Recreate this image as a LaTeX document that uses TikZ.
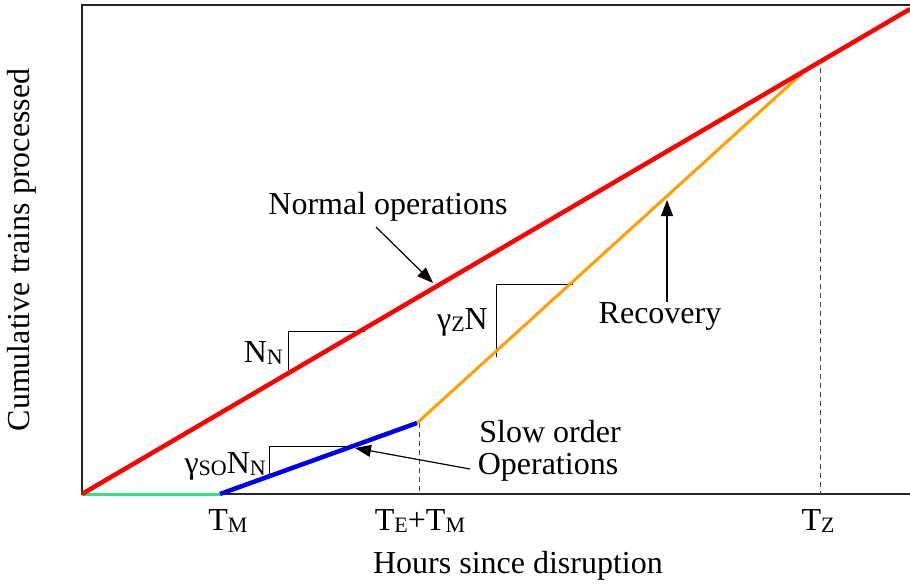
\documentclass[tikz,border=0pt]{standalone}
\usepackage{fontspec}
\setmainfont{Liberation Serif}
\newfontfamily\timesfont{Liberation Serif}
\usetikzlibrary{arrows.meta}
\newcommand{\lowsub}[1]{\raisebox{-0.08em}{\fontsize{22}{22}\selectfont #1}}
\definecolor{normred}{RGB}{255,0,0}
\definecolor{recorange}{RGB}{255,160,0}
\definecolor{slowblue}{RGB}{0,0,240}
\definecolor{waitgreen}{RGB}{50,225,130}
\begin{document}
\begin{tikzpicture}[x=1pt,y=-1pt,
  lbl/.style={inner sep=0pt,font=\timesfont\fontsize{32}{36}\selectfont},
  axisline/.style={line width=1.6pt,black!85},
  guide/.style={dashed,line width=1pt,black!75,dash pattern=on 5pt off 4pt},
  slope/.style={line width=1pt,black},
  pointer/.style={line width=1.2pt,-{Triangle[length=16pt,width=12pt]}}]
\useasboundingbox (0,0) rectangle (910,586);
% frame and axes
\coordinate (tl) at (82,5);
\coordinate (tr) at (910,5);
\coordinate (o) at (82,494);
\coordinate (xr) at (910,494);
\draw[axisline] (tr) -- (tl) -- (o) -- (xr);
% characteristic points
\coordinate (tm) at (220,494);
\coordinate (te) at (417,423);
\coordinate (tz) at (808,68);
\coordinate (rend) at (910,9);
% guides
\draw[guide] (419,423) -- (419,494);
\draw[guide] (820,68) -- (820,494);
% slope triangles
\draw[slope] (288,370) -- (288,331) -- (365,331);
\draw[slope] (496,357) -- (496,284) -- (573,284);
\draw[slope] (269,478) -- (269,446) -- (357,446);
% curves
\draw[waitgreen,line width=3pt] (o) -- (tm);
\draw[recorange,line width=3pt] (te) -- (tz);
\draw[slowblue,line width=4.5pt] (tm) -- (te);
\draw[normred,line width=4.5pt] (o) -- (rend);
% labels
\node[lbl] (normal) at (388,207) {Normal operations};
\node[lbl] (recov) at (660,316) {Recovery};
\node[lbl] (slow1) at (550,432) {Slow order};
\node[lbl] (slow2) at (548,467) {Operations};
\node[lbl,anchor=east] (nn) at (283,353) {N\lowsub{N}};
\node[lbl,anchor=east] (gz) at (488,322) {γ\lowsub{Z}N};
\node[lbl,anchor=east] (gso) at (266,466) {γ\lowsub{SO}N\lowsub{N}};
\node[lbl] (ltm) at (228,521) {T\lowsub{M}};
\node[lbl] (lte) at (420,521) {T\lowsub{E}+T\lowsub{M}};
\node[lbl] (ltz) at (818,521) {T\lowsub{Z}};
\node[lbl] (xlab) at (518,566) {Hours since disruption};
\node[lbl,rotate=90] (ylab) at (22,250) {Cumulative trains processed};
% pointers
\coordinate (pn) at (433,283);
\coordinate (pr) at (667,200);
\coordinate (ps) at (355,448);
\draw[pointer] (376,227) -- (pn);
\draw[pointer] (667,302) -- (pr);
\draw[pointer] (470,469) -- (ps);
\end{tikzpicture}
\end{document}
